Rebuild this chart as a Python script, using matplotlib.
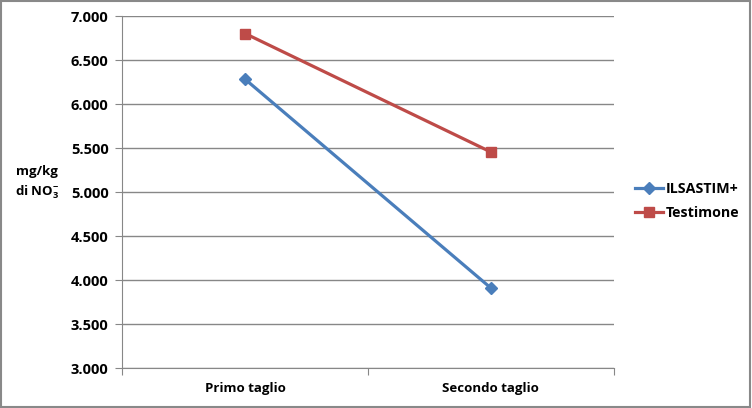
import matplotlib
matplotlib.use("Agg")
import matplotlib.pyplot as plt
from matplotlib.ticker import FuncFormatter

categories = ["Primo taglio", "Secondo taglio"]
ilsastim = [6.28, 3.91]
testimone = [6.80, 5.455]
yticks = [3.0, 3.5, 4.0, 4.5, 5.0, 5.5, 6.0, 6.5, 7.0]

plt.rcParams['font.family'] = ['Open Sans', 'DejaVu Sans']
plt.rcParams['mathtext.fontset'] = 'custom'
plt.rcParams['mathtext.rm'] = 'Open Sans:bold'
plt.rcParams['mathtext.bf'] = 'Open Sans:bold'
plt.rcParams['mathtext.it'] = 'Open Sans:bold'

fig = plt.figure(figsize=(7.52, 4.08), dpi=100)
fig.patch.set_facecolor('white')
fig.add_artist(plt.Rectangle((0.001, 0.002), 0.997, 0.995, transform=fig.transFigure,
                             fill=False, edgecolor='#898989', linewidth=1.5))

ax = fig.add_axes([122.5/752, 40/408, 491/752, 352/408])
x = [0.5, 1.5]
ax.plot(x, ilsastim, color='#4A7EBB', linewidth=2.3, marker='D', markersize=6,
        label='ILSASTIM+', zorder=3)
ax.plot(x, testimone, color='#BE4B48', linewidth=2.3, marker='s', markersize=7,
        label='Testimone', zorder=3)

ax.set_xlim(0, 2)
ax.set_ylim(3.0, 7.0)
ax.set_yticks(yticks)
ax.yaxis.set_major_formatter(FuncFormatter(lambda v, p: f"{v:.3f}"))
ax.set_xticks([0, 1, 2])
ax.set_xticklabels([])
ax.set_xticks(x, minor=True)
ax.set_xticklabels(categories, minor=True)
ax.tick_params(axis='x', which='minor', length=0, pad=10, labelsize=9.5)
ax.tick_params(axis='x', which='major', length=5, color='#878787', direction='out')
ax.tick_params(axis='y', length=5, color='#878787', pad=5, labelsize=10.5)
for lbl in ax.get_xticklabels(minor=True) + ax.get_yticklabels():
    lbl.set_fontweight('bold')

ax.grid(axis='y', color='#878787', linewidth=1)
ax.set_axisbelow(True)
for s in ['top', 'right']:
    ax.spines[s].set_visible(False)
ax.spines['left'].set_color('#878787')
ax.spines['bottom'].set_color('#878787')

fig.text(37/752, 1 - 183/408, "mg/kg\ndi NO$_{3}^{-}$", ha='center', va='center',
         fontsize=9.5, fontweight='bold', linespacing=1.4)

leg = fig.legend(loc='center left', bbox_to_anchor=(622/752, 1 - 201/408), frameon=False,
                 handlelength=2.0, handletextpad=0.15, labelspacing=0.7,
                 prop={'weight': 'bold', 'size': 10.3})

fig.savefig("out.png", dpi=100, facecolor='white')
